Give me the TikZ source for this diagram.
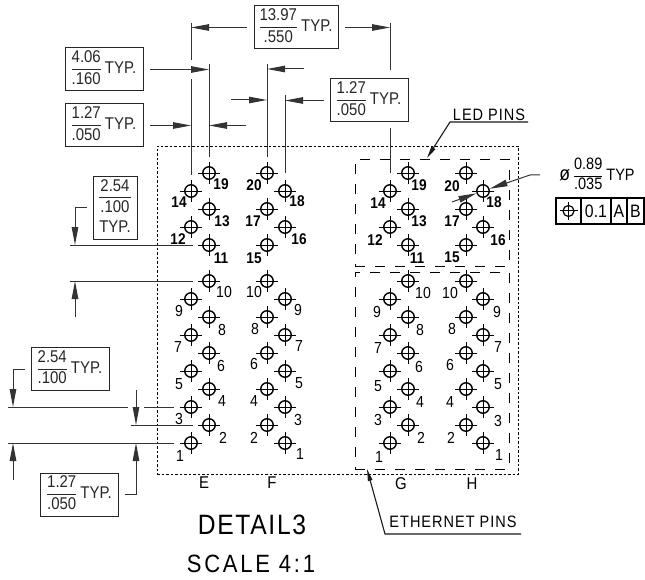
\documentclass[tikz,border=0pt]{standalone}
\usepackage{fontspec}
\setmainfont[FakeStretch=.88]{Liberation Sans}
\newfontfamily\spacedfont[FakeStretch=.88,LetterSpace=6]{Liberation Sans}
\newfontfamily\widefont[FakeStretch=.88,LetterSpace=11]{Liberation Sans}
\usetikzlibrary{arrows.meta}

\newcommand{\dimfrac}[2]{\begin{tabular}{@{}c@{}}#1\\\hline #2\end{tabular}}
\newcommand{\pinat}[2]{%
	\node[pinhole] (#1\n) at (\x,\y) {};
	\draw[pinline] (#1\n.center) ++(-11,0) -- ++(22,0);
	\draw[pinline] (#1\n.center) ++(0,-11) -- ++(0,22);
	\node[#2] (#1l\n) at (\lx,\ly) {\n};
}
\setlength{\arrayrulewidth}{.8pt}
\renewcommand{\arraystretch}{1}

\tikzset{
	pinhole/.style={circle,draw,line width=1.4pt,minimum size=12.5pt,inner sep=0pt},
	pinline/.style={line width=.8pt},
	pinlab/.style={font=\fontsize{16}{18}\selectfont,inner sep=0pt},
	pinlabb/.style={font=\fontsize{15.5}{18}\selectfont\bfseries,inner sep=0pt},
	extline/.style={line width=1pt,black!80},
	dimarrow/.style={line width=1pt,black!80,-{Triangle[length=18pt,width=6.5pt]}},
	smallarrow/.style={line width=1.1pt,black!90,-{Triangle[length=12pt,width=4.5pt]}},
	dimbox/.style={draw,line width=1pt,black!85,font=\fontsize{17}{20.5}\selectfont,inner sep=0pt,outer sep=0pt,minimum height=43pt,minimum width=78pt},
	zone/.style={draw,line width=.9pt,dash pattern=on 10pt off 10pt,inner sep=0pt,outer sep=0pt},
	fcfcell/.style={draw,line width=1.2pt,minimum height=26pt,inner sep=0pt,outer sep=0pt,font=\fontsize{18}{20}\selectfont},
	caption/.style={inner sep=0pt,outer sep=0pt,font=\fontsize{16.5}{18}\spacedfont},
	letter/.style={inner sep=0pt,outer sep=0pt,font=\fontsize{17}{18}\selectfont},
}

\begin{document}
\begin{tikzpicture}[x=1pt,y=-1pt]
	\useasboundingbox (0,0) rectangle (645,580);

	% outline and pin zones
	\node[draw,line width=.8pt,dash pattern=on 2.5pt off 2pt,inner sep=0pt,minimum width=361pt,minimum height=328pt] (outline) at (337.5,310) {};
	\node[zone,minimum width=154pt,minimum height=107pt] (ledzone) at (432,212.5) {};
	\node[zone,minimum width=154pt,minimum height=197pt] (ethzone) at (432,370.5) {};

	% column E
	\foreach \n/\x/\y/\lx/\ly in {19/209/173/221/184,14/191/191/179/202,13/209/209/222/221,12/191/227/178/239,11/209/245/221/258} {\pinat{e}{pinlabb}}
	\foreach \n/\x/\y/\lx/\ly in {10/209/281/224/292,9/191/299/179/311,8/209/317/222/330,7/191/335/178/347,6/209/353/221/366,5/191/371/179/384,4/209/389/222/401,3/191/407/179/419,2/209/425/223/438,1/191/443/180/456} {\pinat{e}{pinlab}}
	% column F
	\foreach \n/\x/\y/\lx/\ly in {20/267/173/254/185,18/285/191/297/201,17/267/209/253/221,16/285/227/299/239,15/267/245/254/258} {\pinat{f}{pinlabb}}
	\foreach \n/\x/\y/\lx/\ly in {10/267/281/254/292,9/285/299/298/310,8/267/317/255/329,7/285/335/299/346,6/267/353/254/364,5/285/371/299/383,4/267/389/254/401,3/285/407/298/420,2/267/425/254/438,1/285/443/300/454} {\pinat{f}{pinlab}}
	% column G
	\foreach \n/\x/\y/\lx/\ly in {19/408/173/419/185,14/390/191/378/203,13/408/209/419/221,12/390/227/375/240,11/408/245/417/258} {\pinat{g}{pinlabb}}
	\foreach \n/\x/\y/\lx/\ly in {10/408/281/423/293,9/390/299/377/312,8/408/317/420/330,7/390/335/378/348,6/408/353/419/367,5/390/371/378/386,4/408/389/420/402,3/390/407/378/420,2/408/425/421/438,1/390/443/379/457} {\pinat{g}{pinlab}}
	% column H
	\foreach \n/\x/\y/\lx/\ly in {20/466/173/452/186,18/483/191/494/202,17/466/209/452/221,16/483/227/498/240,15/466/245/452/257} {\pinat{h}{pinlabb}}
	\foreach \n/\x/\y/\lx/\ly in {10/466/281/450/293,9/483/299/497/312,8/466/317/452/329,7/483/335/498/347,6/466/353/450/365,5/483/371/498/384,4/466/389/450/402,3/483/407/498/421,2/466/425/451/438,1/483/443/499/455} {\pinat{h}{pinlab}}

	% dimension boxes
	\node[dimbox,minimum width=84pt] (boxspan) at (296,27.5) {\dimfrac{13.97}{.550} TYP.};
	\node[dimbox] (boxrow) at (104,69.5) {\dimfrac{4.06}{.160} TYP.};
	\node[dimbox] (boxpitche) at (104,125.5) {\dimfrac{1.27}{.050} TYP.};
	\node[dimbox] (boxpitchf) at (369,100.5) {\dimfrac{1.27}{.050} TYP.};
	\node[dimbox,minimum width=44pt,minimum height=60pt] (boxgroup) at (115,208) {\begin{tabular}{@{}c@{}}2.54\\\hline .100\\TYP.\end{tabular}};
	\node[dimbox] (boxrowa) at (70,369) {\dimfrac{2.54}{.100} TYP.};
	\node[dimbox] (boxrowb) at (79.5,494.5) {\dimfrac{1.27}{.050} TYP.};

	% extension lines, top
	\coordinate (exte) at (191,23);
	\coordinate (extea) at (191,60);
	\coordinate (exteb) at (191,79);
	\coordinate (extg) at (390,23);
	\coordinate (extga) at (390,70);
	\coordinate (extgb) at (390,128);
	\coordinate (extd) at (209,64);
	\coordinate (extf) at (267,64);
	\coordinate (exth) at (285,95);
	\draw[extline] (exte) -- (extea);
	\draw[extline,shorten >=16pt] (exteb) -- (e14.center);
	\draw[extline] (extg) -- (extga);
	\draw[extline,shorten >=18pt] (extgb) -- (g14.center);
	\draw[extline,shorten >=16pt] (extd) -- (e19.center);
	\draw[extline,shorten >=16pt] (extf) -- (f20.center);
	\draw[extline,shorten >=18pt] (exth) -- (f18.center);

	% arrows, top
	\draw[dimarrow,shorten <=7pt] (boxspan.west) -- (boxspan.west -| exte);
	\draw[dimarrow,shorten <=7pt] (boxspan.east) -- (boxspan.east -| extg);
	\draw[dimarrow,shorten <=7pt] (boxrow.east) -- (boxrow.east -| extd);
	\draw[dimarrow,shorten <=7pt] (boxpitche.east) -- (boxpitche.east -| exte);
	\coordinate (arrd) at (246,125.5);
	\draw[dimarrow] (arrd) -- (arrd -| extd);
	\coordinate (arrf) at (304,69);
	\draw[dimarrow] (arrf) -- (arrf -| extf);
	\coordinate (arrg) at (231,100);
	\draw[dimarrow] (arrg) -- (arrg -| extf);
	\draw[dimarrow,shorten <=6pt] (boxpitchf.west) -- (boxpitchf.west -| exth);

	% extension lines, left
	\coordinate (leva) at (70,245);
	\coordinate (levb) at (70,281);
	\coordinate (levc) at (8,407);
	\coordinate (levca) at (128,407);
	\coordinate (levcb) at (144,407);
	\coordinate (levd) at (131,425);
	\coordinate (leve) at (8,443);
	\draw[extline,shorten >=16pt] (leva) -- (e11.center);
	\draw[extline,shorten >=16pt] (levb) -- (e10.center);
	\draw[extline] (levc) -- (levca);
	\draw[extline,shorten >=17pt] (levcb) -- (e3.center);
	\draw[extline,shorten >=16pt] (levd) -- (e2.center);
	\draw[extline,shorten >=17pt] (leve) -- (e1.center);

	% arrows, left
	\coordinate (tipa) at (75,245);
	\coordinate (taila) at (75,317);
	\coordinate (tipb) at (75,281);
	\coordinate (tipc) at (13,407);
	\coordinate (tailc) at (13,480);
	\coordinate (tipd) at (13,443);
	\coordinate (taile) at (136,390);
	\coordinate (tipe) at (136,425);
	\coordinate (tipf) at (136,443);
	\draw[dimarrow,shorten <=6pt] (boxgroup.west) -| (tipa);
	\draw[dimarrow] (taila) -- (tipb);
	\draw[dimarrow,shorten <=6pt] (boxrowa.west) -| (tipc);
	\draw[dimarrow] (tailc) -- (tipd);
	\draw[dimarrow] (taile) -- (tipe);
	\draw[dimarrow,shorten <=6pt] (boxrowb.east) -| (tipf);

	% hole callout
	\node[inner sep=0pt,font=\fontsize{16.5}{19}\selectfont] (phidim) at (597,176) {{\fontsize{20}{20}\selectfont ø}\ \dimfrac{0.89}{.035} TYP};
	\coordinate (phia) at (540,175);
	\coordinate (phib) at (530,175);
	\coordinate (phic) at (452,202);
	\draw[dimarrow,shorten >=7pt] (phia) -- (phib) -- (h18.center);
	\draw[dimarrow,shorten >=7pt] (phic) -- (h18.center);

	% position frame
	\node[fcfcell,minimum width=25pt] (fcfsym) at (568.5,211) {};
	\node[fcfcell,minimum width=30pt] (fcftol) at (596,211) {0.1};
	\node[fcfcell,minimum width=16pt] (fcfa) at (619,211) {A};
	\node[fcfcell,minimum width=17pt] (fcfb) at (635.5,211) {B};
	\node[circle,draw,line width=1.2pt,minimum size=11pt,inner sep=0pt] (fcfpos) at (fcfsym.center) {};
	\draw[line width=1pt] (fcfpos.center) ++(-9,0) -- ++(18,0);
	\draw[line width=1pt] (fcfpos.center) ++(0,-9) -- ++(0,18);

	% callouts
	\node[caption,minimum width=78pt,minimum height=14pt] (ledlabel) at (489,115) {LED PINS};
	\coordinate (ledtip) at (427,158);
	\draw[smallarrow] (ledlabel.south east) -- (ledlabel.south west) -- (ledtip);
	\node[caption,minimum width=136pt,minimum height=24pt] (ethlabel) at (453,522) {ETHERNET PINS};
	\coordinate (ethtip) at (367,469);
	\draw[smallarrow] (ethlabel.south east) -- (ethlabel.south west) -- (ethtip);

	% column letters
	\node[letter] (lete) at (204,483) {E};
	\node[letter] (letf) at (272,483) {F};
	\node[letter] (letg) at (401,484) {G};
	\node[letter] (leth) at (472,484) {H};

	% title
	\node[inner sep=0pt,font=\fontsize{28}{30}\spacedfont] (title) at (252,525) {DETAIL3};
	\node[inner sep=0pt,font=\fontsize{25}{30}\widefont] (scale) at (251,564) {SCALE 4:1};
\end{tikzpicture}
\end{document}
